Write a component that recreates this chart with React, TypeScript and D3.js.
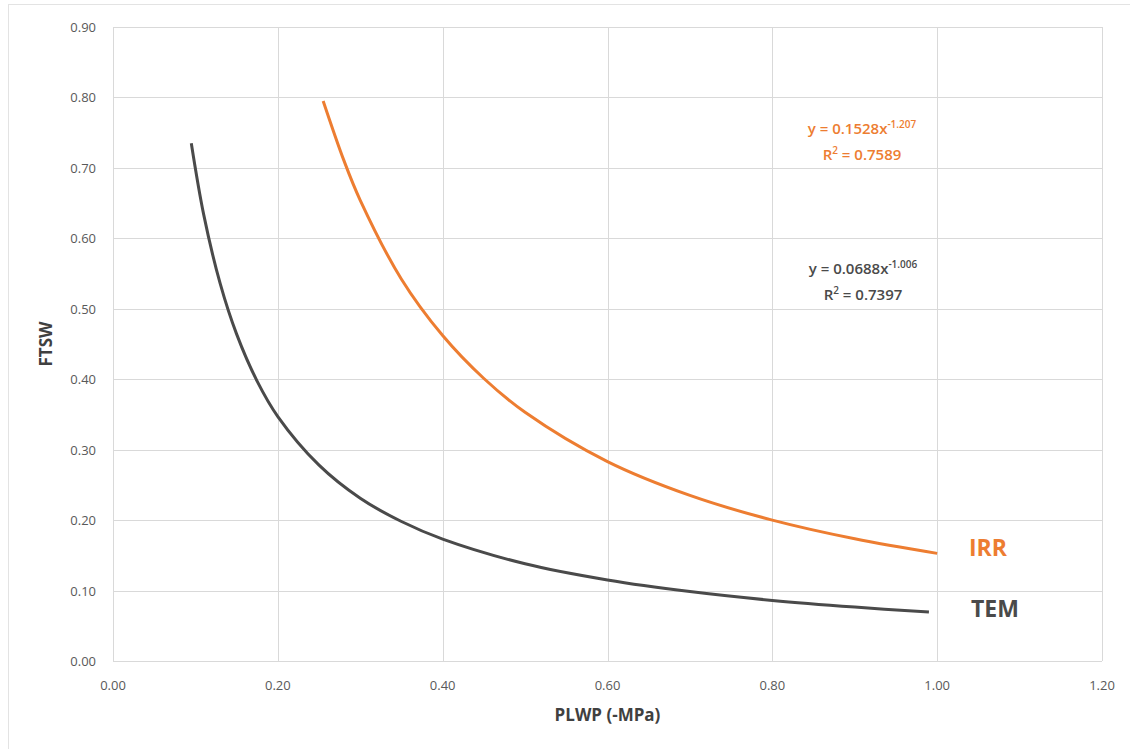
import React, { useRef, useEffect } from 'react';
import * as d3 from 'd3';

// points
const temX = [0.095, 0.11, 0.13, 0.15, 0.175, 0.2, 0.25, 0.3, 0.35, 0.4, 0.5, 0.6, 0.7, 0.8, 0.9, 0.99];
const temY = [0.735, 0.634, 0.536, 0.464, 0.397, 0.347, 0.278, 0.231, 0.198, 0.173, 0.138, 0.115, 0.0985, 0.086, 0.0765, 0.0695];
const irrX = [0.255, 0.28, 0.3, 0.35, 0.4, 0.45, 0.5, 0.6, 0.7, 0.8, 0.9, 1.0];
const irrY = [0.795, 0.711, 0.654, 0.542, 0.462, 0.401, 0.353, 0.283, 0.235, 0.2, 0.1735, 0.1528];

const xTicks = [0, 0.2, 0.4, 0.6, 0.8, 1.0, 1.2];
const yTicks = [0, 0.1, 0.2, 0.3, 0.4, 0.5, 0.6, 0.7, 0.8, 0.9];

const ORANGE = '#ED7D31';
const GRAY = '#595959';
const DARK = '#4a4a4a';
const FONT = '"Open Sans", "Liberation Sans", sans-serif';

export default function App() {
  const ref = useRef<SVGSVGElement>(null);

  useEffect(() => {
    const width = 1130;
    const height = 749;
    const margin = { top: 27, right: 28, bottom: 88, left: 113 };

    const svg = d3.select(ref.current);
    svg.selectAll('*').remove();

    const x = d3.scaleLinear().domain([0, 1.2]).range([margin.left, width - margin.right]);
    const y = d3.scaleLinear().domain([0, 0.9]).range([height - margin.bottom, margin.top]);

    // outer chart border
    svg.append('rect')
      .attr('x', 8.5).attr('y', 4.5)
      .attr('width', width - 8).attr('height', height - 4)
      .attr('fill', 'white').attr('stroke', '#e3e3e3');

    const grid = svg.append('g').attr('stroke', '#d9d9d9').attr('stroke-width', 1);
    grid.selectAll('.hy').data(yTicks).enter().append('line')
      .attr('x1', x(0)).attr('x2', x(1.2))
      .attr('y1', d => Math.round(y(d)) + 0.5).attr('y2', d => Math.round(y(d)) + 0.5);
    grid.selectAll('.vx').data(xTicks).enter().append('line')
      .attr('y1', y(0)).attr('y2', y(0.9))
      .attr('x1', d => Math.round(x(d)) + 0.5).attr('x2', d => Math.round(x(d)) + 0.5);

    // y tick labels
    svg.append('g')
      .selectAll('text').data(yTicks).enter().append('text')
      .attr('x', 96).attr('y', d => y(d) + 5)
      .attr('text-anchor', 'end')
      .attr('font-family', FONT).attr('font-size', 13).attr('fill', GRAY)
      .text(d => d3.format('.2f')(d));

    // x tick labels
    svg.append('g')
      .selectAll('text').data(xTicks).enter().append('text')
      .attr('x', d => x(d)).attr('y', 690)
      .attr('text-anchor', 'middle')
      .attr('font-family', FONT).attr('font-size', 13).attr('fill', GRAY)
      .text(d => d3.format('.2f')(d));

    svg.append('text')
      .attr('x', (x(0) + x(1.2)) / 2).attr('y', 721)
      .attr('text-anchor', 'middle')
      .attr('font-family', FONT).attr('font-size', 17).attr('font-weight', 'bold').attr('fill', '#404040')
      .text('PLWP (-MPa)');

    svg.append('text')
      .attr('transform', `translate(52,${(y(0) + y(0.9)) / 2}) rotate(-90)`)
      .attr('text-anchor', 'middle')
      .attr('font-family', FONT).attr('font-size', 17).attr('font-weight', 'bold').attr('fill', '#404040')
      .text('FTSW');

    const line = d3.line<[number, number]>()
      .x(d => x(d[0])).y(d => y(d[1]))
      .curve(d3.curveCatmullRom);

    const tem = temX.map((v, i) => [v, temY[i]] as [number, number]);
    const irr = irrX.map((v, i) => [v, irrY[i]] as [number, number]);

    svg.append('path').datum(tem)
      .attr('d', line).attr('fill', 'none')
      .attr('stroke', DARK).attr('stroke-width', 3);
    svg.append('path').datum(irr)
      .attr('d', line).attr('fill', 'none')
      .attr('stroke', ORANGE).attr('stroke-width', 3);

    // trendline equations
    const eq = (cx: number, cy: number, coef: string, exp: string, r2: string, color: string) => {
      const t = svg.append('text')
        .attr('x', cx).attr('y', cy).attr('text-anchor', 'middle')
        .attr('font-family', FONT).attr('font-size', 15).attr('font-weight', 600).attr('fill', color);
      t.append('tspan').text(`y = ${coef}x`);
      t.append('tspan').attr('dy', -6).attr('font-size', 10).text(exp);
      const r = svg.append('text')
        .attr('x', cx).attr('y', cy + 26).attr('text-anchor', 'middle')
        .attr('font-family', FONT).attr('font-size', 15).attr('font-weight', 600).attr('fill', color);
      r.append('tspan').text('R');
      r.append('tspan').attr('dy', -6).attr('font-size', 10).text('2');
      r.append('tspan').attr('dy', 6).text(` = ${r2}`);
    };
    eq(862, 134, '0.1528', '-1.207', '0.7589', ORANGE);
    eq(863, 274, '0.0688', '-1.006', '0.7397', DARK);

    svg.append('text')
      .attr('x', 969).attr('y', 556)
      .attr('font-family', FONT).attr('font-size', 23).attr('font-weight', 'bold').attr('fill', ORANGE)
      .text('IRR');
    svg.append('text')
      .attr('x', 971).attr('y', 617)
      .attr('font-family', FONT).attr('font-size', 23).attr('font-weight', 'bold').attr('fill', DARK)
      .text('TEM');
  }, []);

  return (
    <div style={{ position: 'absolute', left: 0, top: 0 }}>
      <svg ref={ref} width={1130} height={749} style={{ display: 'block' }} />
    </div>
  );
}
